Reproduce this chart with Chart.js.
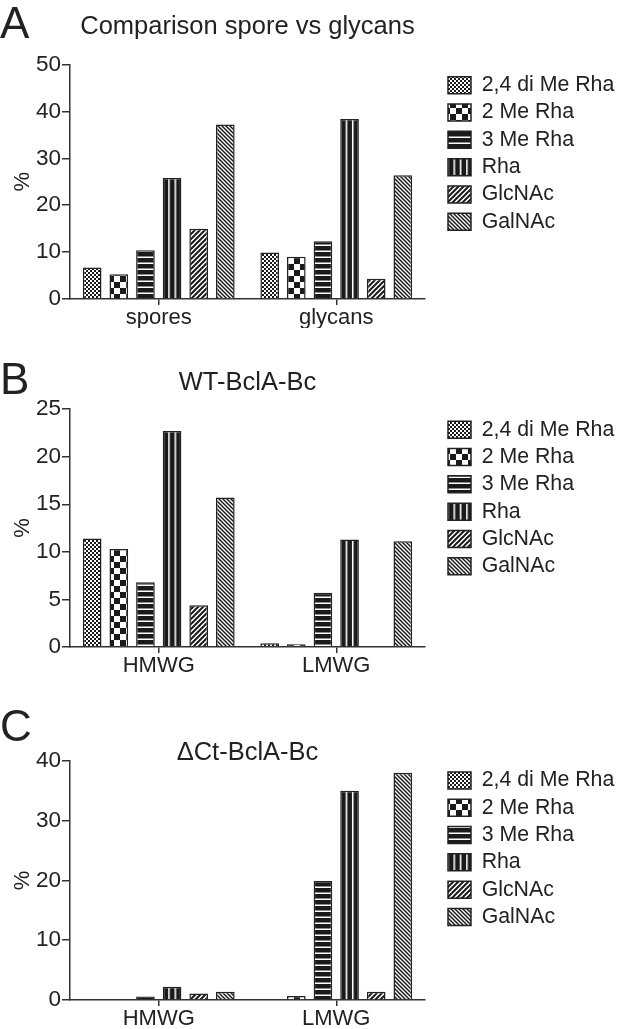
<!DOCTYPE html>
<html lang="en">
<head>
<meta charset="UTF-8">
<title>Spore vs glycans composition</title>
<script src="https://cdn.jsdelivr.net/npm/chart.js"></script>
<style>
  body { margin: 0; background: #fff; }
  .page { position: relative; width: 633px; height: 1029px; overflow: hidden; }
  .panel { position: absolute; left: 0; width: 633px; }
  .letter { position: absolute; left: 0; font: 44px/44px 'Liberation Sans', Arial, sans-serif; color: #222; }
</style>
</head>
<body>
<div class="page">
  <div class="panel" style="top:0px"><canvas id="chartA" width="633" height="328"></canvas></div>
  <div class="panel" style="top:340px"><canvas id="chartB" width="633" height="336"></canvas></div>
  <div class="panel" style="top:690px"><canvas id="chartC" width="633" height="339"></canvas></div>
  <div class="letter" style="top:1px">A</div>
  <div class="letter" style="top:357px">B</div>
  <div class="letter" style="top:704px">C</div>
</div>

<script>
// series (one dataset each, same order in every panel)
const seriesNames = ['2,4 di Me Rha', '2 Me Rha', '3 Me Rha', 'Rha', 'GlcNAc', 'GalNAc'];

// panel A: Comparison spore vs glycans
const labelsA = ['spores', 'glycans'];
const sporesA = [6.7, 5.3, 10.4, 25.8, 15.0, 37.2];
const glycansA = [9.9, 9.0, 12.3, 38.4, 4.3, 26.4];

// panel B: WT-BclA-Bc
const labelsB = ['HMWG', 'LMWG'];
const hmwgB = [11.4, 10.3, 6.8, 22.7, 4.4, 15.7];
const lmwgB = [0.4, 0.3, 5.7, 11.3, 0, 11.1];

// panel C: ΔCt-BclA-Bc
const labelsC = ['HMWG', 'LMWG'];
const hmwgC = [0, 0, 0.6, 2.2, 1.1, 1.4];
const lmwgC = [0, 0.65, 19.9, 35.0, 1.4, 38.0];

// y axis ranges
const yTicksA = [0, 10, 20, 30, 40, 50];
const yTicksB = [0, 5, 10, 15, 20, 25];
const yTicksC = [0, 10, 20, 30, 40];

const ink = '#222';
const axisColor = '#333';
Chart.defaults.font.family = "'Liberation Sans', Arial, sans-serif";

// hatch fills like the print version
function makePattern(w, h, draw) {
    const c = document.createElement('canvas');
    c.width = w;
    c.height = h;
    const g = c.getContext('2d');
    g.fillStyle = '#fff';
    g.fillRect(0, 0, w, h);
    g.fillStyle = '#1a1a1a';
    g.strokeStyle = '#1a1a1a';
    draw(g, w, h);
    return g.createPattern(c, 'repeat');
}

const patterns = [
    makePattern(4, 4, g => { g.fillRect(0, 0, 2, 2); g.fillRect(2, 2, 2, 2); }),
    makePattern(12, 12, g => { g.fillRect(0, 0, 6, 6); g.fillRect(6, 6, 6, 6); }),
    makePattern(6, 6, g => { g.fillRect(0, 0, 6, 4.5); }),
    makePattern(6, 6, g => { g.fillRect(1.5, 0, 4.5, 6); }),
    makePattern(5, 5, (g, s) => {
        g.lineWidth = 2;
        g.beginPath();
        g.moveTo(0, s); g.lineTo(s, 0);
        g.moveTo(-s / 2, s / 2); g.lineTo(s / 2, -s / 2);
        g.moveTo(s / 2, s * 1.5); g.lineTo(s * 1.5, s / 2);
        g.stroke();
    }),
    makePattern(4, 4, (g, s) => {
        g.lineWidth = 1.5;
        g.beginPath();
        g.moveTo(0, 0); g.lineTo(s, s);
        g.moveTo(s / 2, -s / 2); g.lineTo(s * 1.5, s / 2);
        g.moveTo(-s / 2, s / 2); g.lineTo(s / 2, s * 1.5);
        g.stroke();
    })
];
// Rha stripes: stretch so both groups show two white lines per bar
patterns[3].setTransform(new DOMMatrix().translate(3.3, 0).scale(177.5 / 28 / 6, 1));

function buildChart(id, p) {
    return new Chart(document.getElementById(id), {
        type: 'bar',
        data: {
            labels: p.labels,
            datasets: seriesNames.map((name, i) => ({
                label: name,
                data: [p.first[i], p.second[i]],
                backgroundColor: patterns[i],
                borderColor: ink,
                borderWidth: 1.5,
                categoryPercentage: 0.9,
                barPercentage: 0.7
            }))
        },
        options: {
            responsive: false,
            animation: false,
            layout: { padding: { left: 4, right: 11, top: 0, bottom: 0 } },
            plugins: {
                title: {
                    display: true,
                    text: p.title,
                    fullSize: false,
                    color: ink,
                    font: { size: 25.5, weight: 'normal', lineHeight: p.titleLine },
                    padding: p.titlePad
                },
                legend: {
                    position: 'right',
                    align: 'start',
                    fullSize: false,
                    maxWidth: 180,
                    // empty title only pushes the entries down a little
                    title: { display: true, text: '', font: { size: 1, lineHeight: 1 }, padding: { top: 0, bottom: p.legendShift } },
                    labels: { boxWidth: 23, boxHeight: 17, padding: 6, color: ink, font: { size: 21.3 } }
                },
                tooltip: { enabled: false }
            },
            scales: {
                x: {
                    grid: { drawOnChartArea: false, offset: false, tickLength: 6, color: axisColor, lineWidth: 1.5 },
                    border: { color: axisColor, width: 1.5 },
                    ticks: { padding: 0, color: ink, font: { size: 22 } },
                    afterFit: s => { s.height = 29; }
                },
                y: {
                    min: p.yTicks[0],
                    max: p.yTicks[p.yTicks.length - 1],
                    ticks: { stepSize: p.yTicks[1] - p.yTicks[0], padding: 1, color: ink, font: { size: 22.5 } },
                    grid: { drawOnChartArea: false, tickLength: 8, color: axisColor, lineWidth: 1.5 },
                    border: { color: axisColor, width: 1.5 },
                    title: { display: true, text: '%', color: ink, font: { size: 22 }, padding: { top: 6, bottom: 4 } },
                    afterFit: s => { s.width = 66; }
                },
                // empty strip between plot and legend
                gap: {
                    type: 'linear',
                    position: 'right',
                    display: true,
                    grid: { display: false },
                    border: { display: false },
                    ticks: { display: false },
                    afterFit: s => { s.width = 17; }
                }
            }
        }
    });
}

buildChart('chartA', {
    labels: labelsA, first: sporesA, second: glycansA, yTicks: yTicksA,
    title: 'Comparison spore vs glycans', titleLine: 1.2, titlePad: { top: 12, bottom: 22 }, legendShift: 3
});
buildChart('chartB', {
    labels: labelsB, first: hmwgB, second: lmwgB, yTicks: yTicksB,
    title: 'WT-BclA-Bc', titleLine: 1.2, titlePad: { top: 28, bottom: 10.5 }, legendShift: 3
});
buildChart('chartC', {
    labels: labelsC, first: hmwgC, second: lmwgC, yTicks: yTicksC,
    title: '\u0394Ct-BclA-Bc', titleLine: 0.6, titlePad: { top: 55, bottom: 0.5 }, legendShift: 2
});
</script>
</body>
</html>
